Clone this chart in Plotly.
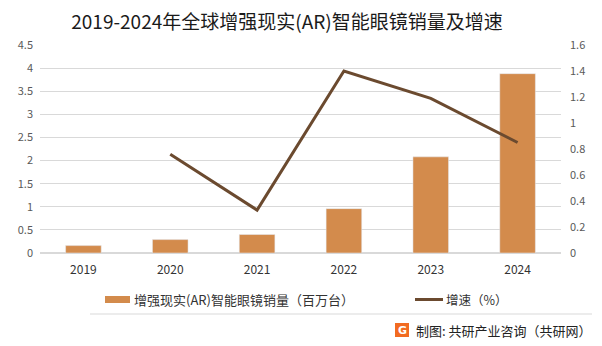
import plotly.graph_objects as go

years = ["2019", "2020", "2021", "2022", "2023", "2024"]
sales = [0.16, 0.29, 0.40, 0.96, 2.08, 3.88]          # 百万台
growth = [None, 0.76, 0.33, 1.40, 1.19, 0.85]          # 增速

left_ticks = [0, 0.5, 1, 1.5, 2, 2.5, 3, 3.5, 4, 4.5]
left_labels = ["0", "0.5", "1", "1.5", "2", "2.5", "3", "3.5", "4", "4.5"]
right_ticks = [0, 0.2, 0.4, 0.6, 0.8, 1, 1.2, 1.4, 1.6]
right_labels = ["0", "0.2", "0.4", "0.6", "0.8", "1", "1.2", "1.4", "1.6"]

bar_name = "增强现实(AR)智能眼镜销量（百万台）"
line_name = "增速（%）"

bar_color = "#D38B4C"
line_color = "#6B4A2F"
cjk = "Noto Sans CJK SC, sans-serif"
tick_font = dict(family=cjk, size=11, color="#595959")

W, H = 602, 346
L, R, T, B = 40, 41, 45, 93
PW, PH = W - L - R, H - T - B


def px(x):
    return (x - L) / PW


def py(y):
    return (H - B - y) / PH


fig = go.Figure()
fig.add_trace(go.Bar(
    x=years, y=sales, name=bar_name,
    marker_color=bar_color, width=0.41, yaxis="y",
))
fig.add_trace(go.Scatter(
    x=years, y=growth, name=line_name, mode="lines",
    line=dict(color=line_color, width=3), yaxis="y2", connectgaps=False,
))

fig.update_layout(
    width=W, height=H,
    margin=dict(l=L, r=R, t=T, b=B),
    paper_bgcolor="white", plot_bgcolor="white",
    font=dict(family=cjk, color="#404040"),
    title=dict(text="2019-2024年全球增强现实(AR)智能眼镜销量及增速",
               x=287 / W, xanchor="center", y=1 - 22 / H, yanchor="middle",
               font=dict(size=19, color="#1A1A1A", family=cjk)),
    xaxis=dict(type="category", showgrid=False, showline=False, ticks="",
               tickfont=dict(family=cjk, size=12, color="#333333"),
               ticklabelstandoff=8),
    yaxis=dict(range=[0, 4.5], tickvals=left_ticks, ticktext=left_labels,
               showgrid=True, gridcolor="#D9D9D9", gridwidth=1, zeroline=True,
               zerolinecolor="#D9D9D9", tickfont=tick_font, ticks="", ticklabelstandoff=6),
    yaxis2=dict(range=[0, 1.6], tickvals=right_ticks, ticktext=right_labels,
                overlaying="y", side="right", showgrid=False, zeroline=False,
                tickfont=tick_font, ticks="", ticklabelstandoff=8),
    showlegend=False,
)

# legend: bar swatch + label
fig.add_shape(type="rect", xref="paper", yref="paper",
              x0=px(105), x1=px(130), y0=py(303), y1=py(296),
              fillcolor=bar_color, line=dict(width=0))
fig.add_annotation(xref="paper", yref="paper", x=px(132), y=py(299.5),
                   xanchor="left", yanchor="middle", showarrow=False,
                   text=bar_name, font=dict(size=13, color="#333333", family=cjk))
# legend: line swatch + label
fig.add_shape(type="line", xref="paper", yref="paper",
              x0=px(415), x1=px(443), y0=py(299.5), y1=py(299.5),
              line=dict(color=line_color, width=3))
fig.add_annotation(xref="paper", yref="paper", x=px(444), y=py(299.5),
                   xanchor="left", yanchor="middle", showarrow=False,
                   text=line_name, font=dict(size=12.5, color="#333333", family=cjk))

# separator line above the credit
fig.add_shape(type="line", xref="paper", yref="paper",
              x0=px(90), x1=px(592), y0=py(314), y1=py(314),
              line=dict(color="#D9D9D9", width=1))

# logo mark next to credit
fig.add_shape(type="rect", xref="paper", yref="paper",
              x0=px(395), x1=px(409), y0=py(337), y1=py(323),
              fillcolor="#F26B21", line=dict(width=0), layer="below")
fig.add_annotation(xref="paper", yref="paper", x=px(402), y=py(330),
                   text="<b>G</b>", showarrow=False, xanchor="center", yanchor="middle",
                   font=dict(size=11, color="#FFFFFF", family="DejaVu Sans"))
fig.add_annotation(xref="paper", yref="paper", x=px(594), y=py(330),
                   xanchor="right", yanchor="middle",
                   text="制图: 共研产业咨询（共研网）", showarrow=False,
                   font=dict(size=13, color="#222222", family=cjk))

fig.write_html("out.html")
